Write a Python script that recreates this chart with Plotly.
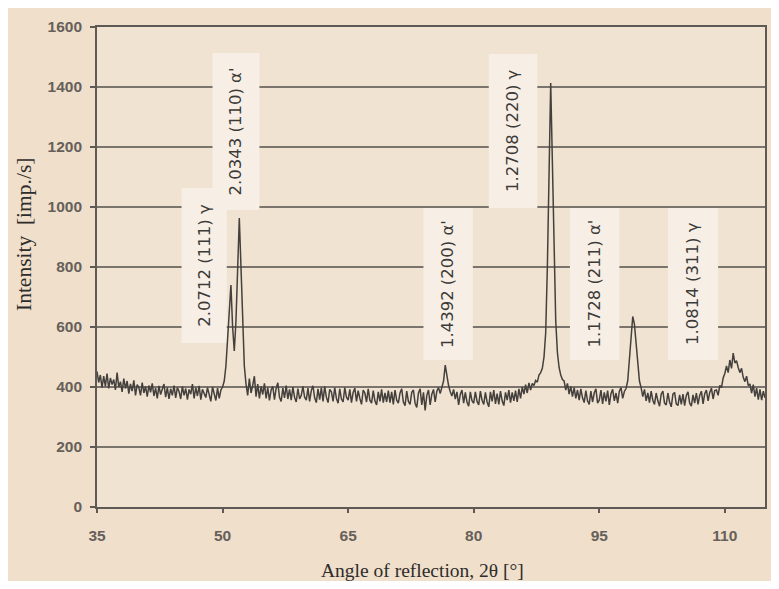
import plotly.graph_objects as go

# ---------------- data ----------------
scan_start = 35.0
scan_step = 0.2

intensity = [
    # 35.0 .. 49.8
    452, 415, 440, 398, 436, 402, 445, 395, 430, 408,
    425, 390, 448, 400, 418, 384, 428, 395, 420, 378,
    410, 386, 422, 372, 408, 398, 372, 415, 380, 402,
    368, 405, 382, 412, 370, 396, 362, 404, 375, 392,
    410, 366, 398, 360, 394, 372, 405, 364, 398, 385,
    360, 402, 372, 395, 358, 392, 376, 410, 362, 398,
    370, 404, 358, 392, 380, 365, 398, 376, 352, 400,
    378, 355, 396, 362, 390,
    # 50.0 .. 52.8
    400, 420, 470, 560, 650,
    740, 600, 520, 620, 800,
    963, 800, 600, 470, 410,
    # 53.0 .. 75.8
    372, 428, 380, 405, 436, 368, 410, 362, 402, 375,
    412, 362, 398, 355, 390, 402, 358, 395, 414, 366,
    352, 396, 364, 405, 360, 392, 356, 400, 366, 350,
    395, 360, 372, 402, 366, 356, 396, 352, 388, 404,
    364, 348, 394, 358, 398, 352, 402, 366, 348, 392,
    384, 352, 398, 362, 346, 394, 360, 350, 398, 366,
    356, 392, 348, 382, 396, 352, 388, 362, 342, 390,
    380, 350, 394, 356, 346, 388, 354, 340, 384, 352,
    392, 348, 380, 350, 388, 348, 384, 342, 390, 356,
    346, 380, 394, 350, 338, 386, 352, 342, 382, 390,
    346, 332, 380, 394, 340, 382, 322, 372, 390, 340,
    376, 392, 350, 386, 398,
    # 76.0 .. 77.8
    378, 398, 420, 473, 430, 405, 384, 370, 392, 360,
    # 78.0 .. 87.8
    384, 340, 376, 390, 346, 382, 350, 336, 384, 354,
    346, 384, 352, 340, 386, 356, 342, 382, 350, 334,
    384, 352, 390, 344, 378, 342, 386, 354, 338, 382,
    356, 390, 348, 382, 354, 388, 350, 394, 362, 400,
    376, 408, 380, 414, 390, 412, 405, 422, 416, 440,
    # 88.0 .. 90.8
    448, 462, 500, 580, 800,
    1150, 1413, 1150, 820, 620,
    515, 465, 440, 425, 420,
    # 91.0 .. 97.8
    390, 412, 376, 402, 368, 398, 362, 390, 356, 394,
    364, 348, 388, 354, 342, 386, 350, 380, 394, 346,
    356, 390, 344, 382, 352, 388, 340, 378, 392, 354,
    380, 346, 386, 398, 362,
    # 98.0 .. 99.8
    385, 395, 420, 490, 580,
    635, 610, 540, 465, 420,
    # 100.0 .. 108.8
    398, 368, 392, 354, 380, 348, 386, 356, 342, 380,
    354, 336, 376, 386, 346, 340, 380, 350, 334, 376,
    382, 344, 338, 374, 342, 376, 338, 372, 384, 346,
    336, 374, 346, 380, 342, 372, 386, 344, 378, 390,
    354, 382, 396, 360, 388,
    # 109.0 .. 114.8
    390, 372, 405, 398, 430,
    445, 470, 448, 490, 462,
    513, 480, 488, 465, 448,
    462, 432, 418, 436, 405,
    410, 380, 408, 368, 396,
    358, 392, 356, 386, 364,
]

angles = [round(scan_start + scan_step * i, 2) for i in range(len(intensity))]

peak_labels = [
    "2.0712 (111) γ",
    "2.0343 (110) α'",
    "1.4392 (200) α'",
    "1.2708 (220) γ",
    "1.1728 (211) α'",
    "1.0814 (311) γ",
]

x_title = "Angle of reflection, 2θ [°]"
y_title = "Intensity  [imp./s]"

x_ticks = [35, 50, 65, 80, 95, 110]
y_ticks = [0, 200, 400, 600, 800, 1000, 1200, 1400, 1600]

# ---------------- layout helpers (label boxes: x0, x1, y0, y1) ----------------
label_boxes = [
    (45.1, 50.5, 547, 1063),
    (48.8, 54.4, 990, 1513),
    (74.0, 79.9, 490, 997),
    (81.8, 87.6, 997, 1510),
    (91.5, 97.4, 490, 997),
    (103.2, 109.2, 490, 997),
]

BEIGE = "#EFDFCB"
PLOT_BG = "#F1E3D1"
BOX_BG = "#F7EFE5"
GRID = "#7a746c"
AXIS = "#5e5954"
TITLE_FONT = dict(family="Liberation Serif", color="#2e2c2a")

fig = go.Figure()
fig.add_trace(go.Scatter(
    x=angles, y=intensity, mode="lines",
    line=dict(color="#43403d", width=1.5),
    showlegend=False, hoverinfo="skip",
))

shapes = []
annotations = []
for (x0, x1, y0, y1), txt in zip(label_boxes, peak_labels):
    shapes.append(dict(type="rect", xref="x", yref="y", x0=x0, x1=x1, y0=y0, y1=y1,
                       fillcolor=BOX_BG, line=dict(width=0), layer="between"))
    annotations.append(dict(x=(x0 + x1) / 2, y=(y0 + y1) / 2, xref="x", yref="y",
                            text=txt, textangle=-90, showarrow=False,
                            xanchor="center", yanchor="middle",
                            font=dict(family="DejaVu Sans", size=16.5, color="#3c3a38")))

# axis titles placed as paper annotations
annotations.append(dict(x=0.488, y=-0.133, xref="paper", yref="paper",
                        text=x_title, showarrow=False, xanchor="center", yanchor="middle",
                        font=dict(size=19.5, **TITLE_FONT)))
annotations.append(dict(x=-0.109, y=0.567, xref="paper", yref="paper",
                        text=y_title, textangle=-90, showarrow=False,
                        xanchor="center", yanchor="middle",
                        font=dict(size=21.5, **TITLE_FONT)))

fig.update_layout(
    width=763, height=573,
    margin=dict(l=89, r=4, t=19, b=74),
    paper_bgcolor=BEIGE,
    plot_bgcolor=PLOT_BG,
    shapes=shapes,
    annotations=annotations,
    xaxis=dict(
        range=[35, 114.8], tickvals=x_ticks, ticktext=[str(v) for v in x_ticks],
        showgrid=False, zeroline=False,
        showline=True, linecolor=AXIS, linewidth=1.6, mirror=True,
        ticks="outside", ticklen=4, tickwidth=1.5, tickcolor=AXIS,
        ticklabelstandoff=10,
        tickfont=dict(family="Liberation Sans", size=15.5, color="#66605a", weight="bold"),
    ),
    yaxis=dict(
        range=[0, 1600], tickvals=y_ticks, ticktext=[str(v) for v in y_ticks],
        showgrid=True, gridcolor=GRID, gridwidth=1.5, zeroline=False,
        showline=True, linecolor=AXIS, linewidth=1.6, mirror=True,
        ticks="outside", ticklen=5, tickwidth=1.5, tickcolor=AXIS,
        ticklabelstandoff=5,
        tickfont=dict(family="Liberation Sans", size=15.5, color="#66605a", weight="bold"),
    ),
)

fig.write_html("out.html")
